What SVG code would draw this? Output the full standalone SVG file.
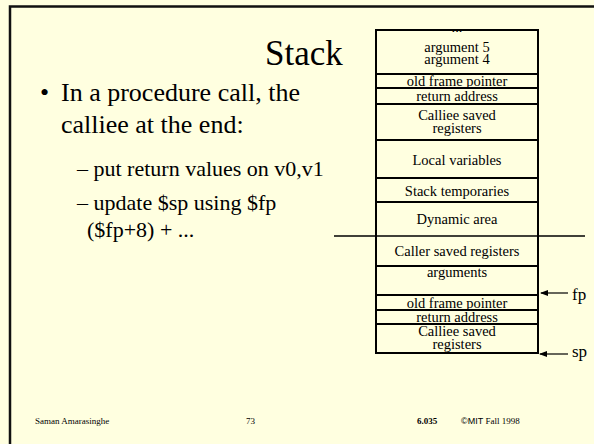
<svg xmlns="http://www.w3.org/2000/svg" width="594" height="444" viewBox="0 0 594 444">
<style>
text{font-family:"Liberation Serif","Times New Roman",serif;fill:#000}
.c{font-size:14.5px;text-anchor:middle}
.r{fill:none;stroke:#000;stroke-width:2}
.l{stroke:#000;stroke-width:2}
</style>
<defs>
<marker id="ah" markerWidth="8" markerHeight="6" refX="7" refY="3" orient="auto" markerUnits="userSpaceOnUse">
<path d="M0,0 L8,3 L0,6 Z" fill="#000"/>
</marker>
</defs>
<rect width="594" height="444" fill="#FFFFE0"/>
<path d="M10,444 V6.5 H594" fill="none" stroke="#111" stroke-width="2.5"/>
<g id="title"><text x="265" y="65" font-size="35">Stack</text></g>
<g id="bullets">
<text x="40" y="101" font-size="26">•</text>
<text x="61" y="101" font-size="26">In a procedure call, the</text>
<text x="61" y="133" font-size="26">calliee at the end:</text>
<text x="77" y="176" font-size="22">– put return values on v0,v1</text>
<text x="77" y="210" font-size="22">– update $sp using $fp</text>
<text x="87" y="237" font-size="22">($fp+8) + ...</text>
</g>
<g id="stack">
<rect class="r" x="376" y="30" width="162" height="323"/>
<line class="l" x1="376" y1="74" x2="538" y2="74"/>
<line class="l" x1="376" y1="88" x2="538" y2="88"/>
<line class="l" x1="376" y1="104" x2="538" y2="104"/>
<line class="l" x1="376" y1="140" x2="538" y2="140"/>
<line class="l" x1="376" y1="178" x2="538" y2="178"/>
<line class="l" x1="376" y1="202" x2="538" y2="202"/>
<line class="l" x1="376" y1="266" x2="538" y2="266"/>
<line class="l" x1="376" y1="295" x2="538" y2="295"/>
<line class="l" x1="376" y1="310" x2="538" y2="310"/>
<line class="l" x1="376" y1="324" x2="538" y2="324"/>
<text class="c" x="457" y="32">...</text>
<text class="c" x="457" y="52">argument 5</text>
<text class="c" x="457" y="64">argument 4</text>
<text class="c" x="457" y="86">old frame pointer</text>
<text class="c" x="457" y="101">return address</text>
<text class="c" x="457" y="120">Calliee saved</text>
<text class="c" x="457" y="133">registers</text>
<text class="c" x="457" y="165">Local variables</text>
<text class="c" x="457" y="196">Stack temporaries</text>
<text class="c" x="457" y="224">Dynamic area</text>
<text class="c" x="457" y="256">Caller saved registers</text>
<text class="c" x="457" y="277">arguments</text>
<text class="c" x="457" y="308">old frame pointer</text>
<text class="c" x="457" y="322">return address</text>
<text class="c" x="457" y="336">Calliee saved</text>
<text class="c" x="457" y="349">registers</text>
</g>
<g id="connectors">
<line x1="334" y1="236" x2="585" y2="236" stroke="#000" stroke-width="1.5"/>
<line x1="568" y1="293" x2="541" y2="293" stroke="#000" stroke-width="1.2" marker-end="url(#ah)"/>
<line x1="568" y1="354" x2="540" y2="354" stroke="#000" stroke-width="1.2" marker-end="url(#ah)"/>
</g>
<g id="pointers">
<text x="572" y="300" font-size="17">fp</text>
<text x="572" y="357" font-size="17">sp</text>
</g>
<g id="footer">
<text x="35" y="424" font-size="9">Saman Amarasinghe</text>
<text x="246" y="424" font-size="9">73</text>
<text x="417" y="424" font-size="9" font-weight="bold">6.035</text>
<text x="461" y="424" font-size="9"><tspan font-family="Liberation Sans,Arial,sans-serif">©MIT</tspan> Fall 1998</text>
</g>
</svg>
